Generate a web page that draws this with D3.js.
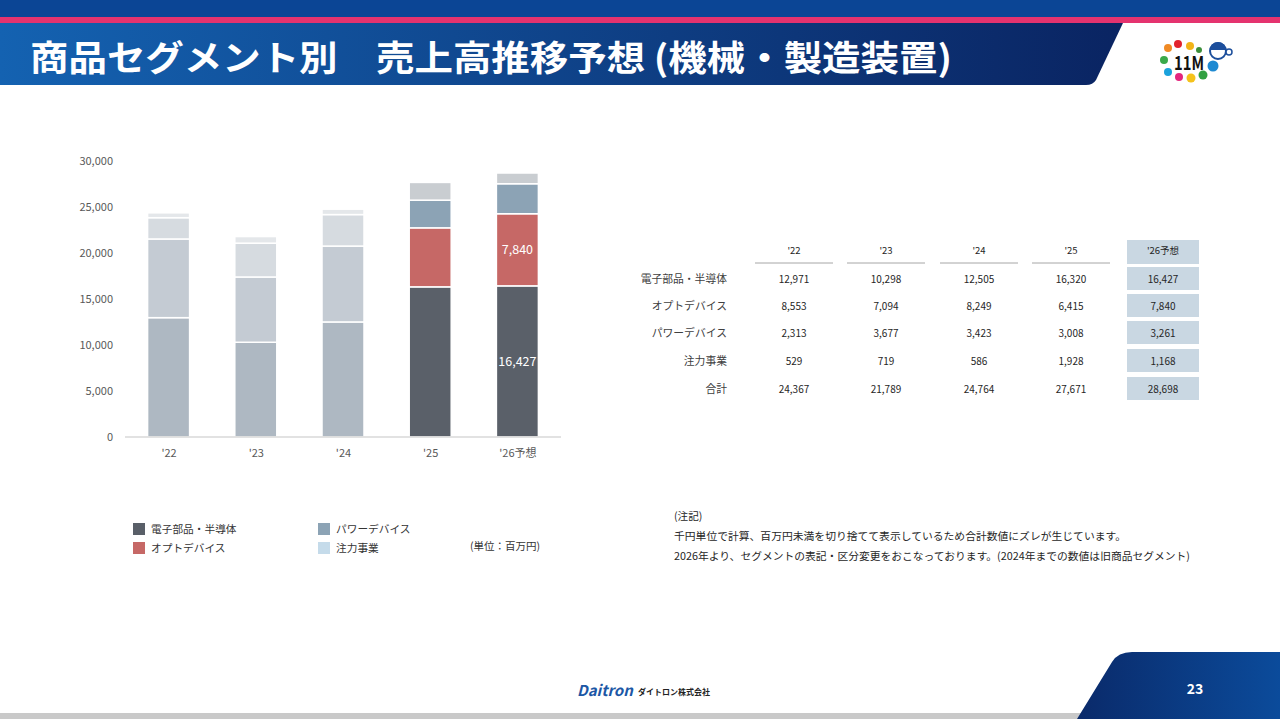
<!DOCTYPE html>
<html>
<head>
<meta charset="utf-8">
<script src="https://cdn.jsdelivr.net/npm/d3@7"></script>
<style>
  html, body { margin: 0; padding: 0; background: #fff; }
  svg text { font-family: "Noto Sans CJK JP", "Noto Sans", sans-serif; }
</style>
</head>
<body>
<div id="slide"></div>
<script>
// データ (単位: 百万円)
const years = ["'22", "'23", "'24", "'25", "'26予想"];
const segments = ["電子部品・半導体", "オプトデバイス", "パワーデバイス", "注力事業"];
const electronic = [12971, 10298, 12505, 16320, 16427];
const opto = [8553, 7094, 8249, 6415, 7840];
const power = [2313, 3677, 3423, 3008, 3261];
const focus = [529, 719, 586, 1928, 1168];
const totals = [24367, 21789, 24764, 27671, 28698];
const yTicks = [0, 5000, 10000, 15000, 20000, 25000, 30000];

const W = 1280, H = 719;
const svg = d3.select("#slide").append("svg")
    .attr("width", W)
    .attr("height", H);

const defs = svg.append("defs");
const gTitle = defs.append("linearGradient").attr("id", "gTitle");
gTitle.append("stop").attr("offset", "0%").attr("stop-color", "#1462b1");
gTitle.append("stop").attr("offset", "100%").attr("stop-color", "#0a2462");
const gFoot = defs.append("linearGradient").attr("id", "gFoot");
gFoot.append("stop").attr("offset", "0%").attr("stop-color", "#0a2a6a");
gFoot.append("stop").attr("offset", "100%").attr("stop-color", "#0b4b9b");

// ヘッダー
svg.append("rect").attr("x", 0).attr("y", 0).attr("width", W).attr("height", 18).attr("fill", "#0b4595");
svg.append("rect").attr("x", 0).attr("y", 17).attr("width", W).attr("height", 6).attr("fill", "#e4336f");
svg.append("path")
    .attr("d", "M0,23 L1123,23 L1096,80 Q1093,85 1086,85 L0,85 Z")
    .attr("fill", "url(#gTitle)");
svg.append("text")
    .attr("x", 30).attr("y", 71)
    .attr("fill", "#fff")
    .attr("font-size", 35)
    .attr("font-weight", "bold")
    .attr("textLength", 922)
    .attr("lengthAdjust", "spacingAndGlyphs")
    .text("商品セグメント別　売上高推移予想 (機械・製造装置)");

// ロゴ (右上)
const logo = svg.append("g");
[[1168, 48, 4, "#f08a24"], [1178, 44, 4, "#e2232e"], [1190, 46, 4, "#f2b418"], [1199, 50, 3, "#3c8f3a"],
 [1164, 60, 4, "#3aa94a"], [1168, 72, 4, "#1aa2dc"], [1179, 77, 4, "#e4267e"], [1191, 78, 4.5, "#f5c21b"],
 [1203, 75, 4.5, "#32a042"], [1213, 66, 5.5, "#1e8ad2"]].forEach(d => {
    logo.append("circle").attr("cx", d[0]).attr("cy", d[1]).attr("r", d[2]).attr("fill", d[3]);
});
logo.append("text").attr("x", 1174).attr("y", 70).attr("font-size", 19).attr("font-weight", "bold")
    .attr("fill", "#111").attr("textLength", 30).attr("lengthAdjust", "spacingAndGlyphs").text("11M");
logo.append("circle").attr("cx", 1218).attr("cy", 51).attr("r", 8).attr("fill", "#fff").attr("stroke", "#1d4f9c").attr("stroke-width", 2);
logo.append("path").attr("d", "M1210,50 A8,8 0 0 1 1226,50 Z").attr("fill", "#1d4f9c");
logo.append("circle").attr("cx", 1229).attr("cy", 52).attr("r", 3).attr("fill", "#fff").attr("stroke", "#1d4f9c").attr("stroke-width", 1.5);

// 棒グラフ
const x = d3.scalePoint().domain(years).range([125, 561]).padding(0.5);
const y = d3.scaleLinear().domain([0, 30000]).range([437, 161]);
const barW = 42;

const oldColors = ["#aeb8c2", "#c4cbd3", "#d6dbe0", "#e4e7ea"];
const newColors = ["#5a6069", "#c66866", "#8ca3b5", "#c9cdd1"];
const legendColors = ["#595f68", "#c66866", "#8ca3b5", "#c5dbea"];

const rows = years.map((yr, i) => ({
    year: yr, i: i,
    s0: electronic[i], s1: opto[i], s2: power[i], s3: focus[i]
}));
const stack = d3.stack().keys(["s0", "s1", "s2", "s3"])(rows);

svg.append("g")
    .attr("transform", "translate(120,0)")
    .call(d3.axisLeft(y).tickValues(yTicks).tickSize(0).tickFormat(d3.format(",")))
    .call(g => g.select(".domain").remove())
    .call(g => g.selectAll("text").attr("fill", "#595959").attr("font-size", 11)
        .attr("font-family", "Liberation Sans, sans-serif").attr("x", -7));

stack.forEach((layer, k) => {
    svg.append("g").selectAll("rect")
        .data(layer)
        .join("rect")
        .attr("x", d => x(d.data.year) - barW / 2)
        .attr("y", d => y(d[1]))
        .attr("width", barW)
        .attr("height", d => y(d[0]) - y(d[1]))
        .attr("fill", d => d.data.i >= 3 ? newColors[k] : oldColors[k])
        .attr("stroke", "#fff")
        .attr("stroke-width", 1.5);
});

svg.append("line")
    .attr("x1", 125).attr("x2", 561)
    .attr("y1", y(0)).attr("y2", y(0))
    .attr("stroke", "#d9d9d9").attr("stroke-width", 1.5);

svg.append("g")
    .attr("transform", `translate(0,${y(0)})`)
    .call(d3.axisBottom(x).tickSize(0))
    .call(g => g.select(".domain").remove())
    .call(g => g.selectAll("text").attr("fill", "#595959").attr("font-size", 11).attr("dy", "1.5em"));

// '26予想 のラベル
const last = years.length - 1;
[[0, electronic[last]], [1, opto[last]]].forEach(([k, v]) => {
    const seg = stack[k][last];
    svg.append("text")
        .attr("x", x(years[last]))
        .attr("y", (y(seg[0]) + y(seg[1])) / 2)
        .attr("dy", "0.36em")
        .attr("text-anchor", "middle")
        .attr("fill", "#fff")
        .attr("font-size", 12.5)
        .text(d3.format(",")(v));
});

// 凡例
const legendPos = [[133, 529], [133, 548], [318, 529], [318, 548]];
segments.forEach((s, k) => {
    const [lx, ly] = legendPos[k];
    svg.append("rect").attr("x", lx).attr("y", ly - 6).attr("width", 12).attr("height", 12).attr("fill", legendColors[k]);
    svg.append("text").attr("x", lx + 18).attr("y", ly).attr("dy", "0.35em")
        .attr("font-size", 10.7).attr("fill", "#333").text(s);
});
svg.append("text").attr("x", 470).attr("y", 546).attr("dy", "0.35em")
    .attr("font-size", 10.5).attr("fill", "#333").text("(単位：百万円)");

// 表
const colX = [794, 886, 979, 1071, 1163];
const headY = 251;
const rowY = [279, 306, 333, 361, 389];
const tableLabels = segments.concat(["合計"]);
const tableValues = [electronic, opto, power, focus, totals];

const tbl = svg.append("g").attr("font-size", 10).attr("fill", "#262626");
tbl.append("rect").attr("x", colX[4] - 36).attr("y", headY - 11).attr("width", 72).attr("height", 24).attr("fill", "#c9d7e2");
rowY.forEach(ry => {
    tbl.append("rect").attr("x", colX[4] - 36).attr("y", ry - 12).attr("width", 72).attr("height", 23).attr("fill", "#c9d7e2");
});
years.forEach((yr, j) => {
    tbl.append("text").attr("x", colX[j]).attr("y", headY).attr("dy", "0.35em")
        .attr("text-anchor", "middle").attr("font-size", 9.5).text(yr);
    if (j < 4) {
        tbl.append("line").attr("x1", colX[j] - 39).attr("x2", colX[j] + 39)
            .attr("y1", headY + 12).attr("y2", headY + 12)
            .attr("stroke", "#a6a6a6").attr("stroke-width", 1);
    }
});
tableLabels.forEach((lab, r) => {
    tbl.append("text").attr("x", 727).attr("y", rowY[r]).attr("dy", "0.35em")
        .attr("text-anchor", "end").attr("fill", "#404040").attr("font-size", 10.8).text(lab);
    tableValues[r].forEach((v, j) => {
        tbl.append("text").attr("x", colX[j]).attr("y", rowY[r]).attr("dy", "0.35em")
            .attr("text-anchor", "middle").text(d3.format(",")(v));
    });
});

// 注記
const notes = ["(注記)",
    "千円単位で計算、百万円未満を切り捨てて表示しているため合計数値にズレが生じています。",
    "2026年より、セグメントの表記・区分変更をおこなっております。(2024年までの数値は旧商品セグメント)"];
const noteLen = [null, 452, 516];
notes.forEach((t, i) => {
    const nt = svg.append("text").attr("x", 674).attr("y", 516 + i * 20).attr("dy", "0.35em")
        .attr("font-size", 10.6).attr("fill", "#262626").text(t);
    if (noteLen[i]) nt.attr("textLength", noteLen[i]).attr("lengthAdjust", "spacingAndGlyphs");
});

// フッター
svg.append("rect").attr("x", 0).attr("y", 713).attr("width", W).attr("height", 6).attr("fill", "#c9c9c9");
svg.append("path")
    .attr("d", "M1077,719 L1112,662 Q1118,652 1132,652 L1280,652 L1280,719 Z")
    .attr("fill", "url(#gFoot)");
svg.append("text").attr("x", 1195).attr("y", 689).attr("dy", "0.35em").attr("text-anchor", "middle")
    .attr("font-size", 14).attr("font-weight", "bold").attr("fill", "#fff").text("23");
svg.append("text").attr("x", 577).attr("y", 696)
    .attr("font-size", 15).attr("font-weight", "bold").attr("font-style", "italic")
    .attr("font-family", "Liberation Sans, sans-serif")
    .attr("fill", "#1c57a5").text("Daitron");
svg.append("text").attr("x", 638).attr("y", 695)
    .attr("font-size", 8).attr("fill", "#222").attr("font-weight", "bold").text("ダイトロン株式会社");
</script>
</body>
</html>
